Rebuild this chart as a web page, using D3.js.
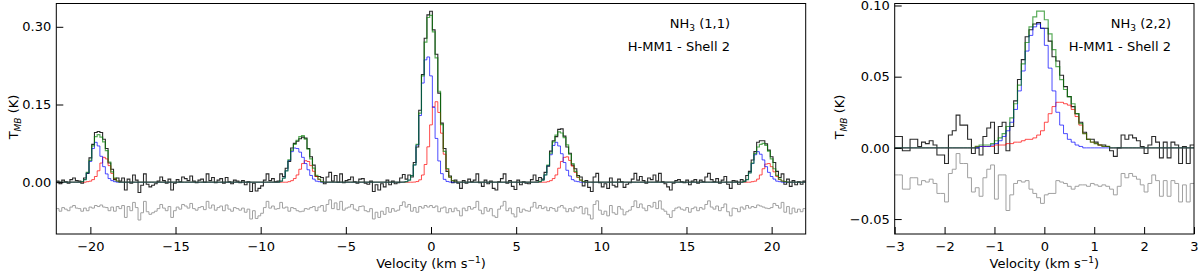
<!DOCTYPE html>
<html>
<head>
<meta charset="utf-8">
<script src="https://cdn.jsdelivr.net/npm/d3@7"></script>
<style>
  body { margin: 0; background: #fff; }
  svg { display: block; }
  text { font-family: "DejaVu Sans", sans-serif; }
</style>
</head>
<body>
<svg width="1200" height="275"></svg>
<script>
// NH3 (1,1): channels of 0.16 km/s from -22 to 22 km/s, T_MB in mK
var v11Start = -22, v11Step = 0.16;
var tmb11 = [
  2, -3, 4, 1, -2, 5, 8, 3, 2, -2,
  8, 17, 47, 73, 96, 98, 96, 83, 65, 37,
  25, 5, 8, 2, 8, -15, 6, -2, 14, 4,
  -20, -6, 16, -4, -9, -6, -3, 2, 10, 3,
  -2, 6, -15, -2, 5, 1, 10, 7, 3, 12,
  2, -1, 4, 6, 0, 16, 3, 9, -1, 4,
  7, -2, 9, 1, -3, 4, 2, -1, 3, -5,
  1, -18, -2, -17, -12, -7, 4, 16, 3, 7,
  1, 2, 16, 11, 27, 40, 66, 75, 79, 84,
  87, 85, 65, 49, 33, 11, 11, 9, -3, 10,
  19, 2, 13, 0, 16, -1, 3, 5, 10, 1,
  -2, 6, 7, -2, -4, 2, -18, -5, -15, -3,
  -9, 4, -5, 2, -3, -1, 8, 15, 6, 14,
  10, 38, 68, 139, 208, 278, 323, 330, 294, 247,
  172, 114, 65, 21, 12, -1, 4, -2, -12, 3,
  -2, 6, 1, 4, 16, -1, -8, 4, -3, 2,
  -12, -15, 1, 7, 16, -2, 3, -8, -14, 4,
  -5, 1, -2, -3, 5, 14, 3, 9, 6, 19,
  31, 60, 80, 88, 102, 103, 89, 68, 56, 33,
  26, 13, 10, -7, 3, -10, -18, 10, 17, -1,
  -9, -3, -12, 8, -6, -9, 6, 1, -10, -4,
  -1, 6, 17, 4, 11, 3, -2, 8, 5, 14,
  2, 17, 1, -3, -9, -15, -2, 3, 5, 1,
  -1, 4, -5, 2, 5, -2, 4, 1, 10, 17,
  5, 1, 7, -2, 4, 11, -4, -12, 3, 2,
  -4, 5, 2, 13, 21, 43, 59, 77, 80, 80,
  74, 62, 49, 38, 21, 9, 16, -4, 6, -8,
  3, -5, 1, -4, 2
];
var resid11 = [
  2, -3, 4, 1, -2, 5, 8, 3, 2, -3,
  3, -2, 5, 3, 8, 6, 9, 5, 4, -2,
  5, -3, 6, 2, 8, -15, 6, -2, 14, 4,
  -20, -6, 16, -4, -9, -6, -3, 2, 10, 3,
  -2, 6, -15, -2, 5, 1, 10, 7, 3, 12,
  2, -1, 4, 6, 0, 16, 3, 9, -1, 4,
  7, -2, 9, 1, -3, 4, 2, -1, 3, -5,
  1, -18, -2, -17, -12, -7, 4, 16, 3, 7,
  1, 2, 14, 3, 5, -3, 4, 2, -2, -4,
  -3, 2, 1, 4, 6, -2, 5, 8, -3, 10,
  19, 2, 13, 0, 16, -1, 3, 5, 10, 1,
  -2, 6, 7, -2, -4, 2, -18, -5, -15, -3,
  -9, 4, -5, 2, -3, -1, 8, 15, 5, 10,
  -3, 4, -5, 6, 3, 8, 5, 8, 4, 7,
  -4, 3, 5, -6, 2, -4, 3, -2, -12, 3,
  -2, 6, 1, 4, 16, -1, -8, 4, -3, 2,
  -12, -15, 1, 7, 16, -2, 3, -8, -14, 4,
  -5, 1, -2, -3, 5, 14, 3, 8, 2, 5,
  -2, 4, 2, -3, 5, 8, 3, -4, 2, -3,
  5, 3, 6, -8, 3, -10, -18, 10, 17, -1,
  -9, -3, -12, 8, -6, -9, 6, 1, -10, -4,
  -1, 6, 17, 4, 11, 3, -2, 8, 5, 14,
  2, 17, 1, -3, -9, -15, -2, 3, 5, 1,
  -1, 4, -5, 2, 5, -2, 4, 1, 10, 17,
  5, 1, 7, -2, 4, 11, -4, -12, 3, 2,
  -4, 5, 1, 8, 3, 6, 4, 9, 7, 5,
  3, 2, 4, 12, 8, 3, 14, -5, 6, -8,
  3, -5, 1, -4, 2
];
// fitted components, given only over the five hyperfine groups (zero elsewhere)
var fitStart11 = [8, 81, 127, 176, 249];
var blue11 = [
  [0, 1, 5, 18, 40, 65, 77, 70, 50, 30, 16, 7, 3, 1, 0, 0],
  [0, 2, 8, 22, 42, 59, 66, 65, 58, 48, 36, 24, 13, 6, 2, 1, 0, 0],
  [0.2, 1.1, 4.1, 12.7, 33.2, 71.8, 128.7, 191.4, 236.2, 241.8, 205.3, 144.6, 84.5, 41, 16.5, 5.5, 1.5, 0.3, 0.1, 0, 0],
  [0, 1, 4, 14, 32, 53, 71, 77, 70, 55, 38, 23, 12, 5, 2, 1, 0, 0, 0],
  [0, 0, 0, 1, 5, 18, 36, 53, 59, 54, 43, 30, 19, 11, 6, 2, 1, 0, 0, 0]
];
var red11 = [
  [0, 0, 0, 1, 2, 5, 11, 22, 37, 48, 45, 32, 17, 7, 2, 0],
  [0, 0, 0, 0, 1, 3, 7, 14, 25, 36, 41.5, 40, 32, 21, 11, 5, 1, 0],
  [0, 0, 0, 0, 0.3, 1.2, 4.6, 13.9, 34.2, 68.3, 110.7, 145.6, 155.4, 134.6, 94.6, 54, 25, 9.4, 2.9, 0.7, 0.1],
  [0, 0, 0, 0, 1, 3, 7, 14, 27, 40, 48, 49, 42, 31, 19, 9, 4, 1, 0],
  [0, 0, 0, 0, 0, 0, 1, 2, 6, 14, 26, 35, 36, 30, 20, 11, 5, 2, 1, 0]
];
var green11 = [
  [0, 1, 5, 19, 42, 70, 88, 92, 87, 78, 61, 39, 20, 8, 2, 0],
  [0, 2, 8, 22, 43, 62, 73, 81, 88, 90, 83, 64, 45, 27, 13, 6, 1, 0],
  [0.2, 1.1, 4.1, 12.7, 33.5, 73, 133.3, 205.3, 270.4, 318, 322, 290.2, 239.9, 175.6, 111.1, 59.5, 26.5, 9.7, 3, 0.7, 0.1],
  [0, 1, 4, 14, 33, 56, 78, 91, 97, 95, 86, 72, 54, 36, 21, 10, 4, 1, 0],
  [0, 0, 0, 1, 5, 18, 37, 55, 68, 73, 75, 71, 60, 45, 26, 13, 6, 2, 1, 0]
];

// NH3 (2,2): 78 channels from -3 to 3 km/s, T_MB in mK
var v22Start = -3, v22Step = 6 / 78;
var tmb22 = [
  8, 8, -2, -2, 6, 6, 1, 4, 3, 5,
  2, -5, -5, -11, 9, 12, 23, 16, 16, 6,
  -4, 0, -5, 8, 14, 18, -4, 15, 18, -2,
  15, 33, 48, 62, 78, 83, 87, 88, 84, 84,
  75, 64, 61, 51, 43, 36, 29, 24, 18, 11,
  6, 6, 4, 2, 2, 1, -2, -6, 0, 9,
  6, 9, 7, 5, 1, -4, 2, 8, 4, -7,
  4, -7, 4, 2, -11, 1, -11, 2
];
var resid22 = [
  8, 8, -2, -2, 6, 6, 1, 4, 3, 5,
  2, -5, -5, -11, 9, 12, 23, 16, 16, 6,
  -4, -1, -7, 6, 12, 15, -9, 8, 8, -17,
  -6, 2, 4, 3, 4, -2, -5, -8, -12, -6,
  -5, -5, 4, 3, 2, 0, -2, 0, 1, 1,
  0, 2, 1, 0, 1, 0, -2, -6, 0, 9,
  6, 9, 7, 5, 1, -4, 2, 8, 4, -7,
  4, -7, 4, 2, -11, 1, -11, 2
];
var fitStart22 = [20];
var blue22 = [[0, 0, 1, 1, 1, 2, 3, 5, 8, 12, 18, 27, 40, 54, 68, 79, 85, 87, 84, 72, 56, 40, 25, 16, 10, 6, 4, 2, 1, 0]];
var red22 = [[0, 1, 1, 1, 1, 1, 2, 2, 2, 3, 3, 4, 4, 5, 6, 6, 7, 9, 12, 18, 24, 29, 32, 32, 31, 30, 27, 22, 16, 10, 6, 4, 3, 2, 1, 1, 0]];
var green22 = [[0, 1, 2, 2, 2, 3, 5, 7, 10, 15, 21, 31, 44, 59, 74, 85, 92, 96, 96, 90, 80, 69, 57, 48, 41, 36, 31, 24, 17, 10, 6, 4, 3, 2, 1, 1, 0]];

var ticks11X = [-20, -15, -10, -5, 0, 5, 10, 15, 20];
var ticks11Y = [0, 0.15, 0.3];
var ticks22X = [-3, -2, -1, 0, 1, 2, 3];
var ticks22Y = [-0.05, 0, 0.05, 0.1];

var svg = d3.select("svg");

function expand(starts, groups, n) {
  var out = new Array(n).fill(0);
  groups.forEach(function (g, k) {
    g.forEach(function (t, j) { out[starts[k] + j] = t; });
  });
  return out;
}

// channel centres plus the two outer channel edges, in K
function stepPoints(vals, v0, dv, shift) {
  var pts = vals.map(function (t, i) {
    return [v0 + dv * (i + 0.5), (t + shift) / 1000];
  });
  pts.unshift([v0, pts[0][1]]);
  pts.push([v0 + dv * vals.length, pts[pts.length - 1][1]]);
  return pts;
}

function panel(p) {
  var x = d3.scaleLinear().domain(p.xDomain).range([p.left, p.right]);
  var y = d3.scaleLinear().domain(p.yDomain).range([p.bottom, p.top]);
  var line = d3.line()
    .x(function (d) { return x(d[0]); })
    .y(function (d) { return y(d[1]); })
    .curve(d3.curveStep);

  svg.append("clipPath").attr("id", "clip" + p.name)
    .append("rect")
    .attr("x", p.left).attr("y", p.top)
    .attr("width", p.right - p.left).attr("height", p.bottom - p.top);

  var plot = svg.append("g").attr("clip-path", "url(#clip" + p.name + ")");
  var n = p.obs.length;
  var series = [
    { vals: p.resid, shift: p.residShift, color: "#a0a0a0", op: 1, w: 1 },
    { vals: p.obs, shift: 0, color: "#2a2a2a", op: 1, w: 1.1 },
    { vals: expand(p.fitStart, p.red, n), shift: 0, color: "red", op: 0.7, w: 1 },
    { vals: expand(p.fitStart, p.blue, n), shift: 0, color: "blue", op: 0.7, w: 1 },
    { vals: expand(p.fitStart, p.green, n), shift: 0, color: "green", op: 0.65, w: 1.2 }
  ];
  series.forEach(function (s) {
    plot.append("path")
      .attr("d", line(stepPoints(s.vals, p.v0, p.dv, s.shift)))
      .attr("fill", "none")
      .attr("stroke", s.color)
      .attr("stroke-opacity", s.op)
      .attr("stroke-width", s.w);
  });

  var xAxis = svg.append("g")
    .attr("transform", "translate(0," + p.bottom + ")")
    .call(d3.axisBottom(x).tickValues(p.xTicks).tickFormat(d3.format("d"))
      .tickSize(-7).tickPadding(8));
  var yAxis = svg.append("g")
    .attr("transform", "translate(" + p.left + ",0)")
    .call(d3.axisLeft(y).tickValues(p.yTicks).tickFormat(d3.format(".2f"))
      .tickSize(-7).tickPadding(5));
  [xAxis, yAxis].forEach(function (a) {
    a.select(".domain").remove();
    a.attr("font-family", null).attr("font-size", 13);
    a.selectAll("line").attr("stroke", "#000");
    a.selectAll("text").attr("fill", "#000");
  });

  svg.append("rect")
    .attr("x", p.left).attr("y", p.top)
    .attr("width", p.right - p.left).attr("height", p.bottom - p.top)
    .attr("fill", "none").attr("stroke", "#000").attr("stroke-width", 1);

  var xl = svg.append("text")
    .attr("x", (p.left + p.right) / 2).attr("y", 268)
    .attr("text-anchor", "middle").attr("font-size", 13);
  xl.append("tspan").text("Velocity (km s");
  xl.append("tspan").attr("font-size", 9).attr("dy", -5).text("−1");
  xl.append("tspan").attr("dy", 5).text(")");

  var yl = svg.append("text")
    .attr("transform", "translate(" + p.ylabelX + ",117) rotate(-90)")
    .attr("text-anchor", "middle").attr("font-size", 13);
  yl.append("tspan").text("T");
  yl.append("tspan").attr("font-size", 9).attr("font-style", "italic").attr("dy", 3).text("MB");
  yl.append("tspan").attr("dy", -3).text(" (K)");

  var t1 = svg.append("text")
    .attr("x", p.noteX).attr("y", 28)
    .attr("text-anchor", "end").attr("font-size", 13);
  t1.append("tspan").text("NH");
  t1.append("tspan").attr("font-size", 9).attr("dy", 3).text("3");
  t1.append("tspan").attr("dy", -3).text(" " + p.line);

  svg.append("text")
    .attr("x", p.noteX).attr("y", 51)
    .attr("text-anchor", "end").attr("font-size", 13)
    .text("H-MM1 - Shell 2");
}

panel({
  name: "a", line: "(1,1)",
  left: 56.3, right: 805.7, top: 3.5, bottom: 234,
  xDomain: [-22, 22], yDomain: [-0.1, 0.345],
  xTicks: ticks11X, yTicks: ticks11Y,
  v0: v11Start, dv: v11Step,
  obs: tmb11, resid: resid11, residShift: -53,
  fitStart: fitStart11, blue: blue11, red: red11, green: green11,
  ylabelX: 18, noteX: 730
});

panel({
  name: "b", line: "(2,2)",
  left: 894.7, right: 1194, top: 3.5, bottom: 234,
  xDomain: [-3, 3], yDomain: [-0.0605, 0.1014],
  xTicks: ticks22X, yTicks: ticks22Y,
  v0: v22Start, dv: v22Step,
  obs: tmb22, resid: resid22, residShift: -27,
  fitStart: fitStart22, blue: blue22, red: red22, green: green22,
  ylabelX: 844, noteX: 1171
});
</script>
</body>
</html>
